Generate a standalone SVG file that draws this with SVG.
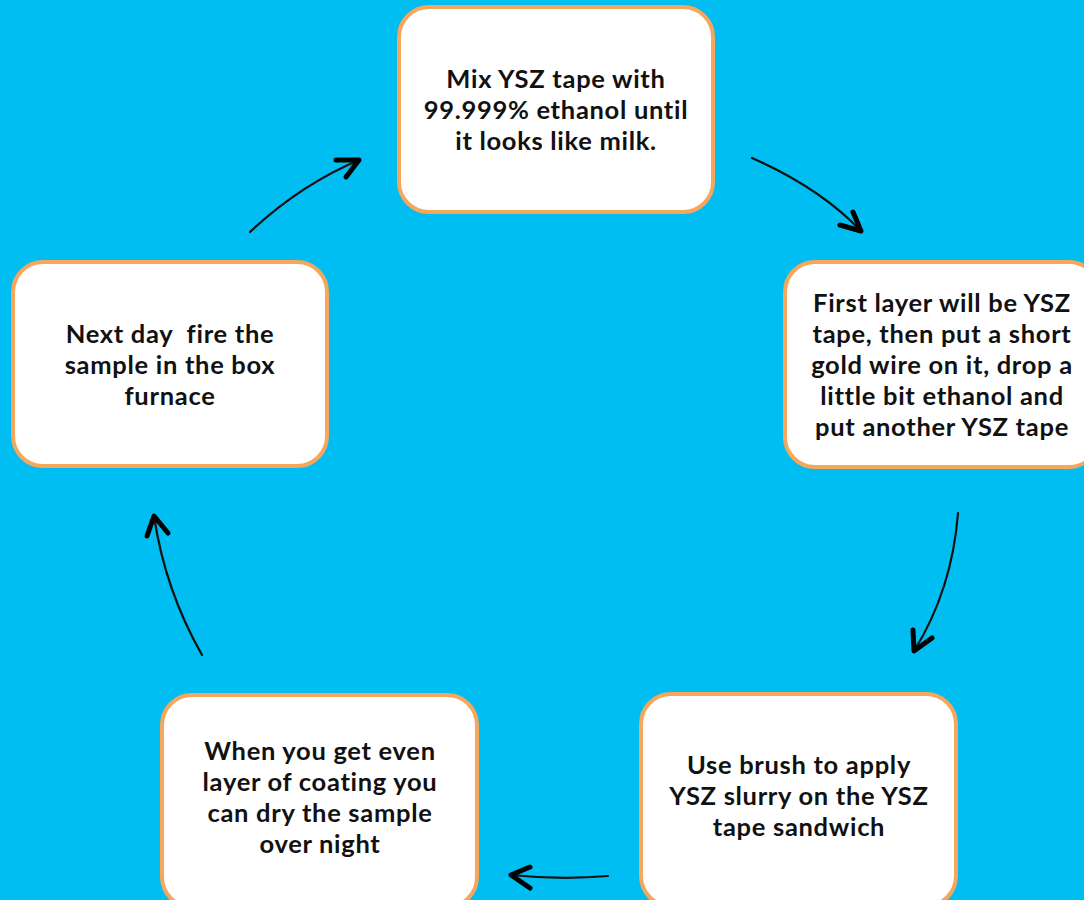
<svg xmlns="http://www.w3.org/2000/svg" width="1084" height="900" viewBox="0 0 1084 900">
<defs>
<style>
.box{fill:#FFFFFF;stroke:#F7A65C;stroke-width:4}
.t{font-family:Lato,"Open Sans","Liberation Sans",sans-serif;font-weight:700;font-size:25.5px;letter-spacing:0.7px;fill:#111111;text-anchor:middle}
.ln{fill:none;stroke:#111111;stroke-width:2.2;stroke-linecap:round}
.hd{fill:none;stroke:#000000;stroke-width:5;stroke-linecap:round;stroke-linejoin:round}
</style>
</defs>
<rect x="0" y="0" width="1084" height="900" fill="#00BEF2"/>
<g id="node-mix">
<rect class="box" x="399" y="7" width="314" height="205" rx="30"/>
<text class="t" x="556" y="88">Mix YSZ tape with</text>
<text class="t" x="556" y="119">99.999% ethanol until</text>
<text class="t" x="556" y="150">it looks like milk.</text>
</g>
<g id="node-layer">
<rect class="box" x="785" y="262" width="314" height="205" rx="30"/>
<text class="t" x="942" y="312">First layer will be YSZ</text>
<text class="t" x="942" y="343">tape, then put a short</text>
<text class="t" x="942" y="374">gold wire on it, drop a</text>
<text class="t" x="942" y="405">little bit ethanol and</text>
<text class="t" x="942" y="436">put another YSZ tape</text>
</g>
<g id="node-brush">
<rect class="box" x="641" y="694" width="315" height="212" rx="30"/>
<text class="t" x="799" y="774">Use brush to apply</text>
<text class="t" x="799" y="805">YSZ slurry on the YSZ</text>
<text class="t" x="799" y="836">tape sandwich</text>
</g>
<g id="node-dry">
<rect class="box" x="162" y="695" width="315" height="212" rx="30"/>
<text class="t" x="320" y="760">When you get even</text>
<text class="t" x="320" y="791">layer of coating you</text>
<text class="t" x="320" y="822">can dry the sample</text>
<text class="t" x="320" y="853">over night</text>
</g>
<g id="node-fire">
<rect class="box" x="13" y="262" width="314" height="204" rx="30"/>
<text class="t" x="170" y="343" xml:space="preserve">Next day  fire the</text>
<text class="t" x="170" y="374">sample in the box</text>
<text class="t" x="170" y="405">furnace</text>
</g>
<g id="connectors">
<path class="ln" d="M752,158 Q820,188 861,231"/>
<path class="hd" d="M840,225 L861,231 L853,212"/>
<path class="ln" d="M958,513 Q952,590 914,651"/>
<path class="hd" d="M913,630 L914,651 L932,638"/>
<path class="ln" d="M608,876 Q560,880 511,875"/>
<path class="hd" d="M530,867 L511,875 L530,888"/>
<path class="ln" d="M202,655 Q165,590 154,516"/>
<path class="hd" d="M147,536 L154,516 L168,533"/>
<path class="ln" d="M250,232 Q300,185 359,160"/>
<path class="hd" d="M336,160 L359,160 L346,177"/>
</g>
</svg>
